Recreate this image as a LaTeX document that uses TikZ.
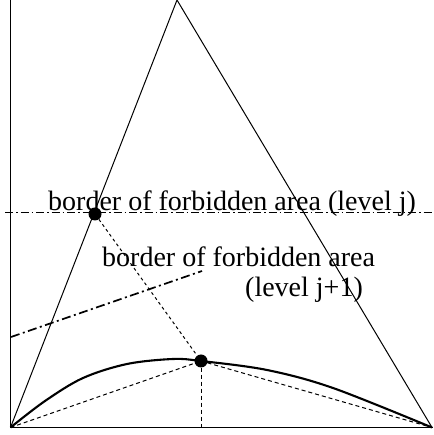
\documentclass[tikz,border=0pt]{standalone}
\usepackage{fontspec}
\setmainfont{Liberation Serif}
\tikzset{
  fb fig/.style={x=1pt, y=1pt, font=\fontsize{28}{30}\selectfont},
  fb axis/.style={line width=1pt},
  fb tri/.style={line width=1pt},
  fb curve/.style={line width=2.1pt},
  fb lvl/.style={line width=1pt, dash pattern=on 8pt off 3pt on 1.5pt off 3pt},
  fb lvl2/.style={line width=1.7pt, dash pattern=on 9pt off 3.5pt on 2pt off 3.5pt},
  fb dots/.style={line width=1pt, dash pattern=on 3pt off 3pt},
  fb dash/.style={line width=1pt, dash pattern=on 4pt off 3pt},
  fb dot/.style={circle, fill=black, minimum size=13pt, inner sep=0pt},
  fb text/.style={anchor=base west, inner sep=0pt},
}
\begin{document}
\begin{tikzpicture}[fb fig]
\useasboundingbox (0,0) rectangle (433,435);
% frame points
\coordinate (o) at (10.5,7.5);
\coordinate (ytop) at (10.5,435);
\coordinate (xend) at (433,7.5);
\coordinate (apex) at (177,435);
\coordinate (rbase) at (432,7.5);
\coordinate (lj w) at (5,222);
\coordinate (lj e) at (433,222);
\coordinate (lk w) at (11,98);
\coordinate (lk e) at (202,164);
\coordinate (foot) at (201,7.5);
\draw[fb axis] (ytop) -- (o) -- (xend);
\draw[fb tri] (o) -- (apex) -- (rbase);
\draw[fb lvl] (lj w) -- (lj e);
\draw[fb lvl2] (lk w) -- (lk e);
\draw[fb curve] plot[smooth, tension=0.55] coordinates {(10.5,7.5) (45,34) (83,57) (127,71) (173,76) (201,74) (267,65) (333,47) (432,7.5)};
\node[fb dot] (hi) at (95,221) {};
\node[fb dot] (lo) at (201,74) {};
\draw[fb dots] (hi) -- (lo);
\draw[fb dash] (o) -- (lo) -- (rbase);
\draw[fb dash] (lo) -- (foot);
\node[fb text] (lj) at (48,224) {border of forbidden area (level j)};
\node[fb text] (lk) at (102,168) {border of forbidden area};
\node[fb text] (lk2) at (245,138) {(level j+1)};
\end{tikzpicture}
\end{document}
